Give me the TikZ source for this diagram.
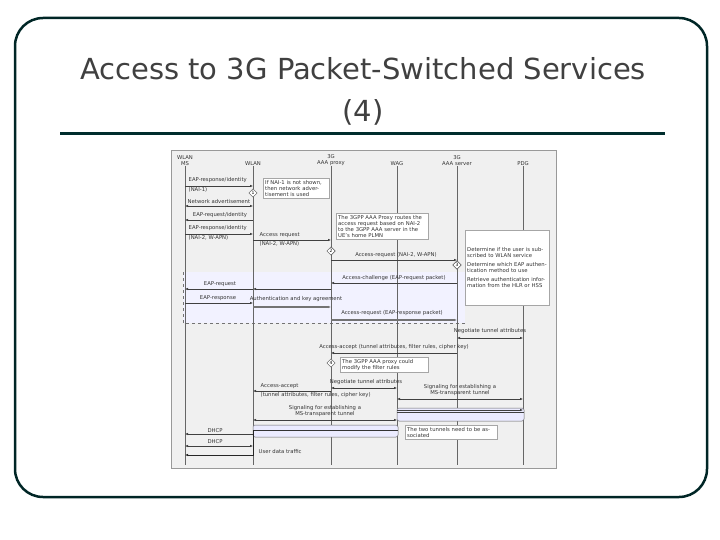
\documentclass[tikz,border=0pt]{standalone}
\usepackage{fontspec}
\setmainfont{DejaVu Sans}
\usetikzlibrary{arrows.meta,shapes.geometric}
\begin{document}
\begin{tikzpicture}[x=1pt,y=-1pt,
  txt/.style={font=\fontsize{5.3}{6}\selectfont, inner sep=0.5pt, text=black!80},
  hd/.style={txt, align=center, anchor=south},
  msg/.style={-{Latex[length=3pt,width=2.5pt]}, black!75, line width=0.5pt},
  dmsg/.style={{Latex[length=3pt,width=2.5pt]}-{Latex[length=3pt,width=2.5pt]}, black!75, line width=0.5pt},
  life/.style={black!60, line width=0.5pt},
  note/.style={txt, draw=black!35, fill=white, align=left, anchor=north west, text width=#1, inner sep=2pt},
  dia/.style={diamond, draw=black!70, fill=white, line width=0.4pt, inner sep=0.6pt, font=\fontsize{4.5}{4.5}\selectfont},
  pipe/.style={draw=black!60, fill=blue!8, rounded corners=2pt, line width=0.5pt}]
\useasboundingbox (0,0) rectangle (720,540);
\draw[line width=2.5pt, draw=black!70!teal, rounded corners=28pt] (15,18) rectangle (707,497);
\node (title) at (363,91) [align=center, font=\fontsize{29}{42}\selectfont, text=black!75] {Access to 3G Packet-Switched Services\\(4)};
\draw[line width=3pt, draw=black!65!teal] (60,134) -- (665,134);
\node (panel) [draw=black!40, fill=black!6, minimum width=385pt, minimum height=318pt, anchor=north west, inner sep=0] at (171,150) {};
\fill[blue!5] (183,272) rectangle (465,323);
\draw[black!55, dashed, line width=0.4pt] (183,272) -- (183,323) -- (465,323);
\node (ms) [hd] at (185,166) {WLAN\\MS};
\node (wlan) [hd] at (253,166) {WLAN};
\node (prx) [hd] at (331,166) {3G\\AAA proxy};
\node (wag) [hd] at (397,166) {WAG};
\node (srv) [hd] at (457,166) {3G\\AAA server};
\node (pdg) [hd] at (523,166) {PDG};
\foreach \n in {ms,wlan,prx,wag,srv,pdg} \draw[life] (\n.south) -- (\n |- 0,465);
\node (n1) [note=62pt] at (263,178) {If NAI-1 is not shown, then network advertisement is used};
\node (n2) [note=88pt] at (336,213) {The 3GPP AAA Proxy routes the access request based on NAI-2 to the 3GPP AAA server in the UE's home PLMN};
\node (n3) [note=80pt, minimum height=75pt] at (465,230) {Determine if the user is subscribed to WLAN service\\[3pt]Determine which EAP authentication method to use\\[3pt]Retrieve authentication information from the HLR or HSS};
\node (n4) [note=84pt] at (340,357) {The 3GPP AAA proxy could modify the filter rules};
\draw[msg] (ms |- 0,186) -- (wlan |- 0,186);
\node[txt,anchor=south west] at (188,183) {EAP-response/identity};
\node[txt,anchor=north west] at (188,187) {(NAI-1)};
\node (d1) [dia] at (253,193) {1};
\draw[dmsg] (ms |- 0,206) -- (wlan |- 0,206);
\node[txt,anchor=south west] at (187,204) {Network advertisement};
\draw[msg] (wlan |- 0,220) -- (ms |- 0,220);
\node[txt,anchor=south] at (220,218) {EAP-request/identity};
\draw[msg] (ms |- 0,234) -- (wlan |- 0,234);
\node[txt,anchor=south west] at (188,231) {EAP-response/identity};
\node[txt,anchor=north west] at (188,235) {(NAI-2, W-APN)};
\draw[msg] (wlan |- 0,240) -- (prx |- 0,240);
\node[txt,anchor=south west] at (259,238) {Access request};
\node[txt,anchor=north west] at (259,241) {(NAI-2, W-APN)};
\node (d2) [dia] at (331,251) {2};
\draw[msg] (prx |- 0,260) -- (srv |- 0,260);
\node[txt,anchor=south] at (396,258) {Access-request (NAI-2, W-APN)};
\node (d3) [dia] at (457,265) {3};
\draw[msg] (srv |- 0,283) -- (prx |- 0,283);
\node[txt,anchor=south] at (394,281) {Access-challenge (EAP-request packet)};
\draw[msg] (prx |- 0,289) -- (wlan |- 0,289);
\draw[msg] (wlan |- 0,289) -- (ms |- 0,289);
\node[txt,anchor=south] at (220,287) {EAP-request};
\draw[msg] (ms |- 0,303) -- (wlan |- 0,303);
\node[txt,anchor=south] at (218,301) {EAP-response};
\draw[msg, line width=1.2pt, black!55] (wlan |- 0,307) -- (prx |- 0,307);
\node[txt,anchor=south] at (296,302) {Authentication and key agreement};
\draw[msg, line width=1.2pt, black!55] (prx |- 0,320) -- (srv |- 0,320);
\node[txt,anchor=south] at (392,316) {Access-request (EAP-response packet)};
\draw[dmsg] (srv |- 0,338) -- (pdg |- 0,338);
\node[txt,anchor=south] at (490,334) {Negotiate tunnel attributes};
\draw[msg] (srv |- 0,353) -- (prx |- 0,353);
\node[txt,anchor=south] at (394,350) {Access-accept (tunnel attributes, filter rules, cipher key)};
\node (d4) [dia] at (331,363) {4};
\draw[msg] (prx |- 0,391) -- (wlan |- 0,391);
\node[txt,anchor=south west] at (260,389) {Access-accept};
\node[txt,anchor=north west] at (260,392) {(tunnel attributes, filter rules, cipher key)};
\draw[dmsg] (prx |- 0,388) -- (wag |- 0,388);
\node[txt,anchor=south] at (366,385) {Negotiate tunnel attributes};
\draw[dmsg] (wag |- 0,399) -- (pdg |- 0,399);
\node[txt,anchor=south,align=center] at (460,396) {Signaling for establishing a\\MS-transparent tunnel};
\path[pipe] (397,408) rectangle (524,421);
\draw[black!75, line width=0.9pt] (397,412) -- (524,412);
\draw[msg] (397,410) -- (pdg |- 0,410);
\draw[dmsg] (wlan |- 0,420) -- (wag |- 0,420);
\node[txt,anchor=south,align=center] at (325,417) {Signaling for establishing a\\MS-transparent tunnel};
\path[pipe] (253,425) rectangle (398,437);
\draw[black!80, line width=0.9pt] (253,430) -- (398,430);
\node (n5) [note=88pt] at (405,425) {The two tunnels need to be associated};
\draw[msg] (wlan |- 0,434) -- (ms |- 0,434);
\node[txt,anchor=south] at (215,433) {DHCP};
\draw[dmsg] (ms |- 0,446) -- (wlan |- 0,446);
\node[txt,anchor=south] at (215,444) {DHCP};
\draw[-{Latex[length=3pt,width=2.5pt]}, black!85, line width=0.9pt] (wlan |- 0,430) -- (wlan |- 0,455) -- (ms |- 0,455);
\node[txt,anchor=west] at (258,452) {User data traffic};
\end{tikzpicture}
\end{document}
